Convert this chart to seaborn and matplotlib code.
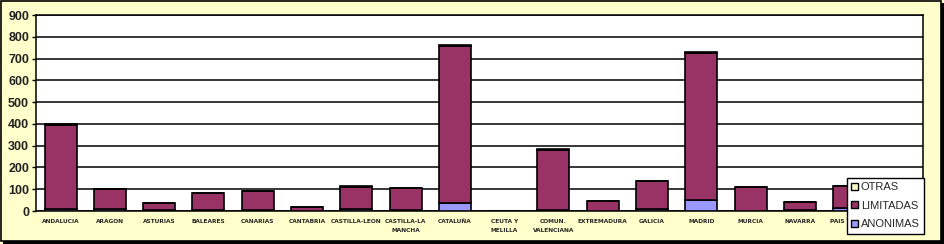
import matplotlib
matplotlib.use("Agg")
import matplotlib.pyplot as plt
from matplotlib.patches import Rectangle, Patch
import seaborn as sns
import pandas as pd
import numpy as np

categories = ["ANDALUCIA", "ARAGON", "ASTURIAS", "BALEARES", "CANARIAS", "CANTABRIA",
              "CASTILLA-LEON", "CASTILLA-LA\nMANCHA", "CATALUÑA", "CEUTA Y\nMELILLA",
              "COMUN.\nVALENCIANA", "EXTREMADURA", "GALICIA", "MADRID", "MURCIA",
              "NAVARRA", "PAIS VASCO", "LA RIOJA"]
anonimas  = [10, 10, 3, 4, 4, 2, 9, 3, 36, 0, 3, 2, 8, 52, 2, 4, 15, 3]
limitadas = [387, 89, 34, 79, 86, 16, 103, 101, 720, 0, 279, 42, 128, 672, 107, 37, 98, 21]
otras     = [1, 1, 0, 0, 0, 0, 1, 0, 5, 0, 1, 0, 0, 5, 0, 0, 0, 0]
yticks = list(range(0, 1000, 100))

df = pd.DataFrame({"cat": categories, "ANONIMAS": anonimas,
                   "LIMITADAS": limitadas, "OTRAS": otras})
df["b2"] = df["ANONIMAS"]
df["b3"] = df["ANONIMAS"] + df["LIMITADAS"]

bg = "#FFFFCC"
sns.set_theme(style="white")
plt.rcParams["font.family"] = ["Liberation Sans", "DejaVu Sans"]

fig = plt.figure(figsize=(9.44, 2.44), dpi=100)
fig.patch.set_facecolor(bg)
ax = fig.add_axes([36/944, 33/244, 887/944, 196/244])
ax.set_facecolor("white")

colors = {"ANONIMAS": "#9999FF", "LIMITADAS": "#993366", "OTRAS": "#FFFFCC"}
sns.barplot(data=df, x="cat", y="ANONIMAS", color=colors["ANONIMAS"], ax=ax,
            width=0.65, edgecolor="black", linewidth=1.2, saturation=1, zorder=3)
sns.barplot(data=df, x="cat", y="LIMITADAS", color=colors["LIMITADAS"], ax=ax,
            width=0.65, edgecolor="black", linewidth=1.2, saturation=1,
            bottom=df["b2"], zorder=3)
sns.barplot(data=df, x="cat", y="OTRAS", color=colors["OTRAS"], ax=ax,
            width=0.65, edgecolor="black", linewidth=1.2, saturation=1,
            bottom=df["b3"], zorder=3)

ax.set_ylim(0, 900)
ax.set_xlim(-0.5, len(categories) - 0.5)
ax.set_yticks(yticks)
ax.set_yticklabels([str(t) for t in yticks], fontsize=9, fontweight="bold", color="#222222")
ax.set_xticks(range(len(categories)))
# last category's label is hidden behind the legend in the reference
xlabels = categories[:-1] + [""]
ax.set_xticklabels(xlabels, fontsize=4.2, fontweight="bold", family="DejaVu Sans",
                   linespacing=1.8)
ax.tick_params(axis="y", length=3, width=1, color="black", pad=2, left=True)
ax.tick_params(axis="x", length=0, pad=6)
ax.set_xlabel("")
ax.set_ylabel("")
ax.yaxis.grid(True, color="black", linewidth=1.1, zorder=0)
ax.set_axisbelow(True)
for side in ["left", "bottom", "top", "right"]:
    ax.spines[side].set_color("black")
    ax.spines[side].set_linewidth(1.1)

handles = [Patch(facecolor=colors["OTRAS"], edgecolor="black", label="OTRAS"),
           Patch(facecolor=colors["LIMITADAS"], edgecolor="black", label="LIMITADAS"),
           Patch(facecolor=colors["ANONIMAS"], edgecolor="black", label="ANONIMAS")]
leg = fig.legend(handles=handles, loc="upper left",
                 bbox_to_anchor=(847/944, 1 - 178/244), fontsize=8,
                 frameon=True, fancybox=False, edgecolor="black",
                 handlelength=0.6, handleheight=0.6, handletextpad=0.25,
                 borderpad=0.4, labelspacing=0.75, borderaxespad=0)
leg.get_frame().set_facecolor("white")
leg.get_frame().set_linewidth(1)
leg.get_frame().set_alpha(1)
leg.set_zorder(10)

# figure border with shadow
fig.patches.append(Rectangle((3/944, 0), 941/944, 241/244, transform=fig.transFigure,
                             facecolor="black", edgecolor="none", zorder=-2))
fig.patches.append(Rectangle((0.5/944, 3/244), 940/944, 240.5/244, transform=fig.transFigure,
                             facecolor=bg, edgecolor="black", linewidth=1.2, zorder=-1))

fig.savefig("out.png", dpi=100, facecolor=bg)
